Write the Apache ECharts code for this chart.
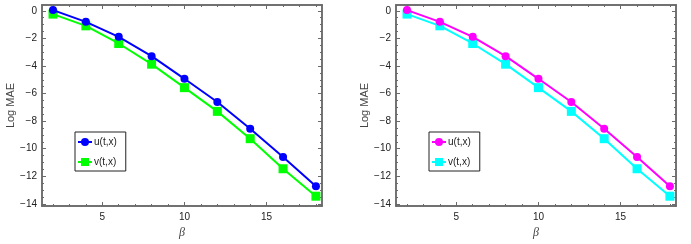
<!DOCTYPE html>
<html>
<head>
<meta charset="utf-8">
<script src="https://cdn.jsdelivr.net/npm/echarts@6/dist/echarts.min.js"></script>
<style>
html,body{margin:0;padding:0;background:#fff;}
#c{width:691px;height:244px;}
</style>
</head>
<body>
<div id="c"></div>
<script>
// ---- data ----
const betas = [2, 4, 6, 8, 10, 12, 14, 16, 18];
const uVals = [0.05, -0.8, -1.89, -3.29, -4.93, -6.61, -8.55, -10.6, -12.72];
const vVals = [-0.24, -1.09, -2.37, -3.87, -5.57, -7.29, -9.27, -11.45, -13.44];
const xMajorTicks = [5, 10, 15];
const xMinorTicks = [2, 3, 4, 6, 7, 8, 9, 11, 12, 13, 14, 16, 17, 18];
const yMajorTicks = [0, -2, -4, -6, -8, -10, -12, -14];
const yMinorTicks = [-0.5, -1, -1.5, -2.5, -3, -3.5, -4.5, -5, -5.5, -6.5, -7, -7.5, -8.5, -9, -9.5,
  -10.5, -11, -11.5, -12.5, -13, -13.5];
const seriesNames = ['u(t,x)', 'v(t,x)'];
const panelColors = [['#0000ff', '#00ff00'], ['#ff00ff', '#00ffff']];
const xName = 'β';
const yName = 'Log MAE';

// ---- layout ----
const xMin = 1.33, xMax = 18.37, yMin = -14.15, yMax = 0.42;
const grids = [
  {left: 42, top: 5, width: 280, height: 201},
  {left: 396, top: 5, width: 280, height: 201}
];
const frameColor = '#6a6a6a';
const fmt = v => String(v).replace('-', '\u2212');

const option = {animation: false, grid: [], xAxis: [], yAxis: [], series: [], legend: []};

grids.forEach((g, gi) => {
  option.grid.push(g);
  const xBase = {
    type: 'value', gridIndex: gi, min: xMin, max: xMax,
    splitLine: {show: false},
    axisLine: {show: true, onZero: false, lineStyle: {color: frameColor, width: 1.5}}
  };
  const yBase = {
    type: 'value', gridIndex: gi, min: yMin, max: yMax,
    splitLine: {show: false},
    axisLine: {show: true, onZero: false, lineStyle: {color: frameColor, width: 1.5}}
  };
  const xMainIdx = option.xAxis.length;
  option.xAxis.push(Object.assign({}, xBase, {
    position: 'bottom',
    name: xName, nameLocation: 'middle', nameGap: 13,
    nameTextStyle: {fontFamily: 'Liberation Serif', fontStyle: 'italic', fontSize: 12, color: '#444'},
    axisTick: {show: true, inside: true, length: 4, customValues: xMajorTicks, lineStyle: {color: frameColor}},
    axisLabel: {show: true, margin: 6, customValues: xMajorTicks, formatter: fmt,
      fontFamily: 'Liberation Sans', fontSize: 10, color: '#222'}
  }));
  option.xAxis.push(Object.assign({}, xBase, {
    position: 'bottom',
    axisTick: {show: true, inside: true, length: 2, customValues: xMinorTicks, lineStyle: {color: frameColor}},
    axisLabel: {show: false}
  }));
  option.xAxis.push(Object.assign({}, xBase, {
    position: 'top',
    axisTick: {show: true, inside: true, length: 4, customValues: xMajorTicks, lineStyle: {color: frameColor}},
    axisLabel: {show: false}
  }));
  option.xAxis.push(Object.assign({}, xBase, {
    position: 'top',
    axisTick: {show: true, inside: true, length: 2, customValues: xMinorTicks, lineStyle: {color: frameColor}},
    axisLabel: {show: false}
  }));

  const yMainIdx = option.yAxis.length;
  option.yAxis.push(Object.assign({}, yBase, {
    position: 'left',
    name: yName, nameLocation: 'middle', nameGap: 26,
    nameTextStyle: {fontFamily: 'Liberation Sans', fontSize: 11, color: '#444'},
    axisTick: {show: true, inside: true, length: 4, customValues: yMajorTicks, lineStyle: {color: frameColor}},
    axisLabel: {show: true, margin: 5, customValues: yMajorTicks, formatter: fmt,
      fontFamily: 'Liberation Sans', fontSize: 10, color: '#222'}
  }));
  option.yAxis.push(Object.assign({}, yBase, {
    position: 'left',
    axisTick: {show: true, inside: true, length: 2, customValues: yMinorTicks, lineStyle: {color: frameColor}},
    axisLabel: {show: false}
  }));
  option.yAxis.push(Object.assign({}, yBase, {
    position: 'right',
    axisTick: {show: true, inside: true, length: 4, customValues: yMajorTicks, lineStyle: {color: frameColor}},
    axisLabel: {show: false}
  }));
  option.yAxis.push(Object.assign({}, yBase, {
    position: 'right',
    axisTick: {show: true, inside: true, length: 2, customValues: yMinorTicks, lineStyle: {color: frameColor}},
    axisLabel: {show: false}
  }));

  const cols = panelColors[gi];
  const ids = [];
  [uVals, vVals].forEach((vals, si) => {
    const id = seriesNames[si] + '#' + gi;
    ids.push(id);
    option.series.push({
      type: 'line', name: id,
      xAxisIndex: xMainIdx, yAxisIndex: yMainIdx,
      data: betas.map((b, i) => [b, vals[i]]),
      symbol: si === 0 ? 'circle' : 'rect',
      symbolSize: si === 0 ? 8 : 9,
      color: cols[si],
      lineStyle: {width: 2, color: cols[si]},
      itemStyle: {color: cols[si]},
      z: 3 - si
    });
  });
  option.legend.push({
    data: ids,
    orient: 'vertical',
    left: g.left + 33, top: 132,
    itemWidth: 14, itemHeight: 10, itemGap: 10,
    padding: [5, 9, 4, 2],
    borderColor: '#222', borderWidth: 1,
    backgroundColor: '#fff',
    formatter: n => n.split('#')[0],
    textStyle: {fontFamily: 'Liberation Sans', fontSize: 10, color: '#222', padding: [0, 0, 0, -3]}
  });
});

const chart = echarts.init(document.getElementById('c'), null, {renderer: 'canvas'});
chart.setOption(option);
</script>
</body>
</html>
